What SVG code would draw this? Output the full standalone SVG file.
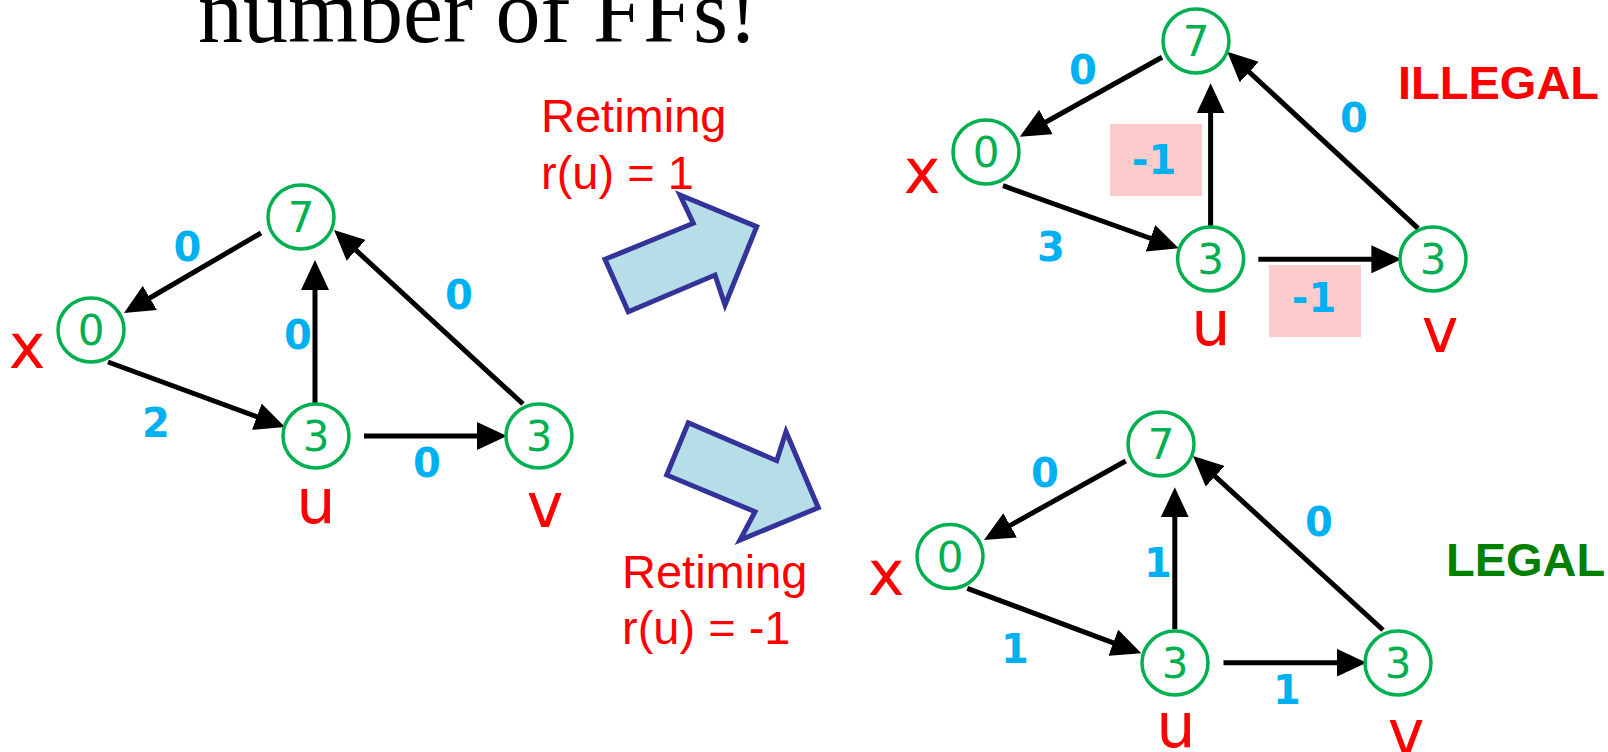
<svg xmlns="http://www.w3.org/2000/svg" width="1608" height="752" viewBox="0 0 1608 752">
<style>
.node ellipse{fill:#fff;stroke:#00B050;stroke-width:3.5}
.node text{font-family:"DejaVu Sans",sans-serif;font-size:42px;fill:#00B050;text-anchor:middle}
.lbl{font-family:"DejaVu Sans",sans-serif;font-size:62px;fill:#FF0000;text-anchor:middle}
.w{font-family:"DejaVu Sans",sans-serif;font-weight:bold;font-size:40px;fill:#00B0F0;text-anchor:middle}
.edge{stroke:#000;stroke-width:5;fill:none;marker-end:url(#ah)}
.rt{font-family:"Liberation Sans",Arial,sans-serif;font-size:47px;fill:#FF0000}
.big{fill:#B7DEE8;stroke:#333399;stroke-width:5;stroke-linejoin:miter}
.pink{fill:#FCCBCB}
</style>
<defs>
<marker id="ah" markerUnits="userSpaceOnUse" markerWidth="30" markerHeight="28" refX="20" refY="14" orient="auto">
<path d="M0,0 L30,14 L0,28 z" fill="#000"/>
</marker>
</defs>
<rect width="1608" height="752" fill="#fff"/>
<text x="198" y="42" font-family="Liberation Serif,serif" font-size="90" fill="#000">number of FFs!</text>

<g id="connectors">
<line class="edge" x1="261" y1="233" x2="132.6" y2="308"/>
<line class="edge" x1="108" y1="362" x2="275.6" y2="423.6"/>
<line class="edge" x1="315" y1="403" x2="315" y2="270"/>
<line class="edge" x1="523" y1="404" x2="341.4" y2="236.8"/>
<line class="edge" x1="364" y1="436" x2="497" y2="436"/>

<line class="edge" x1="1162" y1="57.3" x2="1028.5" y2="131.8"/>
<line class="edge" x1="1003" y1="185.7" x2="1169.3" y2="245"/>
<line class="edge" x1="1210.6" y1="226" x2="1210.6" y2="93.3"/>
<line class="edge" x1="1418" y1="228.3" x2="1234.6" y2="58.5"/>
<line class="edge" x1="1258.3" y1="259.3" x2="1391.4" y2="259.3"/>

<line class="edge" x1="1125.7" y1="461" x2="992.7" y2="535.1"/>
<line class="edge" x1="967.3" y1="588.3" x2="1132" y2="649.8"/>
<line class="edge" x1="1174.8" y1="629.3" x2="1174.8" y2="497.3"/>
<line class="edge" x1="1383" y1="630" x2="1200.4" y2="462.8"/>
<line class="edge" x1="1223.5" y1="662.7" x2="1356.6" y2="662.7"/>
</g>

<g id="L-7" class="node"><ellipse cx="301" cy="217" rx="33" ry="32"/><text x="301" y="232">7</text></g>
<g id="L-x" class="node"><ellipse cx="91" cy="330" rx="33" ry="32"/><text x="91" y="345">0</text></g>
<g id="L-u" class="node"><ellipse cx="316" cy="436" rx="33" ry="32"/><text x="316" y="451">3</text></g>
<g id="L-v" class="node"><ellipse cx="539" cy="436" rx="33" ry="32"/><text x="539" y="451">3</text></g>

<g id="TR-7" class="node"><ellipse cx="1196" cy="41" rx="33" ry="32"/><text x="1196" y="56">7</text></g>
<g id="TR-x" class="node"><ellipse cx="986" cy="152" rx="33" ry="32"/><text x="986" y="167">0</text></g>
<g id="TR-u" class="node"><ellipse cx="1210.6" cy="259" rx="33" ry="32"/><text x="1210.6" y="274">3</text></g>
<g id="TR-v" class="node"><ellipse cx="1433" cy="259" rx="33" ry="32"/><text x="1433" y="274">3</text></g>

<g id="LR-7" class="node"><ellipse cx="1161" cy="444" rx="33" ry="32"/><text x="1161" y="459">7</text></g>
<g id="LR-x" class="node"><ellipse cx="950" cy="556.5" rx="33" ry="32"/><text x="950" y="571.5">0</text></g>
<g id="LR-u" class="node"><ellipse cx="1175" cy="663" rx="33" ry="32"/><text x="1175" y="678">3</text></g>
<g id="LR-v" class="node"><ellipse cx="1398" cy="663" rx="33" ry="32"/><text x="1398" y="678">3</text></g>

<g id="labels">
<text class="lbl" x="27" y="368">x</text>
<text class="lbl" x="316" y="523">u</text>
<text class="lbl" x="545" y="527">v</text>
<text class="lbl" x="922" y="193">x</text>
<text class="lbl" x="1211" y="345">u</text>
<text class="lbl" x="1440" y="352">v</text>
<text class="lbl" x="886" y="595">x</text>
<text class="lbl" x="1176" y="747">u</text>
<text class="lbl" x="1406" y="754">v</text>
</g>

<g id="weights">
<text class="w" x="187.5" y="261">0</text>
<text class="w" x="459" y="309">0</text>
<text class="w" x="298" y="349">0</text>
<text class="w" x="156" y="437">2</text>
<text class="w" x="427" y="477">0</text>

<rect class="pink" x="1110" y="124" width="92" height="72"/>
<rect class="pink" x="1269" y="265" width="92" height="72"/>
<text class="w" x="1083" y="84">0</text>
<text class="w" x="1354" y="132">0</text>
<text class="w" x="1051" y="261">3</text>
<text class="w" x="1154" y="174">-1</text>
<text class="w" x="1314" y="312">-1</text>

<text class="w" x="1045" y="487">0</text>
<text class="w" x="1319" y="536">0</text>
<text class="w" x="1158" y="577">1</text>
<text class="w" x="1015" y="663">1</text>
<text class="w" x="1287" y="704">1</text>
</g>

<g id="retime-up">
<polygon class="big" points="628.3,311.7 605,259.3 693.3,223.3 680,195 756.7,226.7 725,305 715,275"/>
<text class="rt" x="541" y="132">Retiming</text>
<text class="rt" x="541" y="189">r(u) = 1</text>
</g>
<g id="retime-down">
<polygon class="big" points="688.3,422.7 776.7,460.7 786,431.7 818.3,507.7 740,540 755,511.7 666.7,475"/>
<text class="rt" x="622" y="588">Retiming</text>
<text class="rt" x="622" y="644">r(u) = -1</text>
</g>

<text x="1398" y="99" font-family="Liberation Sans,Arial,sans-serif" font-weight="bold" font-size="47" fill="#FF0000">ILLEGAL</text>
<text x="1446" y="576" font-family="Liberation Sans,Arial,sans-serif" font-weight="bold" font-size="47" fill="#008000">LEGAL</text>
</svg>
